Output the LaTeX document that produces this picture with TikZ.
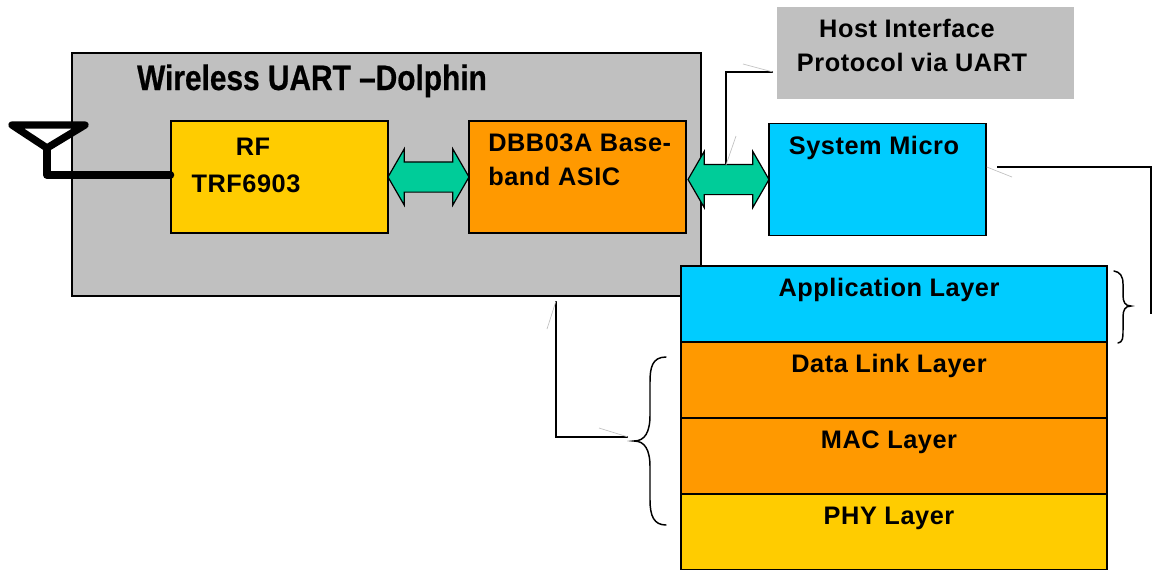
\documentclass[tikz,border=0pt]{standalone}
\usepackage{fontspec}
\setmainfont[LetterSpace=2.2]{Liberation Sans}
\newfontfamily\titlefont[FakeStretch=0.845,BoldFeatures={FakeBold=0.5}]{Liberation Sans}
\usetikzlibrary{shapes.arrows}
\definecolor{boxgray}{HTML}{C0C0C0}
\definecolor{rfyellow}{HTML}{FFCC00}
\definecolor{asicorange}{HTML}{FF9900}
\definecolor{microblue}{HTML}{00CCFF}
\definecolor{arrowgreen}{HTML}{00CC99}
\tikzset{
    blockbox/.style={draw, line width=1.1pt, rectangle, inner sep=0pt, minimum width=162.75pt, minimum height=84pt},
    layerbox/.style={draw, line width=1.1pt, rectangle, inner sep=0pt, minimum width=319.5pt, minimum height=57pt},
    boxtext/.style={font=\fontsize{19}{20}\selectfont\bfseries, inner sep=0pt, anchor=base},
    linkarrow/.style={draw, line width=0.9pt, fill=arrowgreen, shape=double arrow, inner xsep=0pt, inner ysep=10.875pt, double arrow tip angle=120, double arrow head extend=9.75pt, minimum height=60.75pt},
    leader/.style={line width=1.2pt},
    stub/.style={line width=0.5pt, boxgray},
    bracket/.style={line width=1.1pt, line cap=round}
}
\begin{document}
\begin{tikzpicture}[x=0.75pt, y=-0.75pt]
    \useasboundingbox (0,0) rectangle (1152,569);

    \node[draw, line width=1.1pt, fill=boxgray, inner sep=0pt, minimum width=471.75pt, minimum height=182.25pt] (dolphin) at (386.5,174.5) {};
    \node[fill=boxgray, inner sep=0pt, minimum width=222.75pt, minimum height=69pt] (host) at (925.5,53) {};

    \node[blockbox, fill=rfyellow] (rf) at (279.5,177) {};
    \node[blockbox, fill=asicorange] (asic) at (577.5,177) {};
    \node[blockbox, fill=microblue] (micro) at (877.5,179.5) {};

    \node[layerbox, fill=microblue] (app) at (894,304) {};
    \node[layerbox, fill=asicorange] (link) at (894,380) {};
    \node[layerbox, fill=asicorange] (mac) at (894,456) {};
    \node[layerbox, fill=rfyellow] (phy) at (894,532) {};

    \node[linkarrow] (rfasic) at (428.5,177) {};
    \node[linkarrow] (asicmicro) at (728.5,179.5) {};

    % labels
    \node[font=\titlefont\fontsize{26.5}{30}\selectfont\bfseries, inner sep=0pt, anchor=base] (title) at (312,90) {Wireless UART –Dolphin};
    \node[boxtext] (rflabel) at (253,155) {RF};
    \node[boxtext] (trflabel) at (246,192) {TRF6903};
    \node[boxtext, anchor=base west] (asiclabel) at (488,151) {DBB03A Base-};
    \node[boxtext, anchor=base west] (bandlabel) at (488,185) {band ASIC};
    \node[boxtext] (microlabel) at (874,154) {System Micro};
    \node[boxtext] (hostlabel) at (907,37) {Host Interface};
    \node[boxtext] (uartlabel) at (912,71) {Protocol via UART};
    \node[boxtext] (applabel) at (889,296) {Application Layer};
    \node[boxtext] (linklabel) at (889,372) {Data Link Layer};
    \node[boxtext] (maclabel) at (889,448) {MAC Layer};
    \node[boxtext] (phylabel) at (889,524) {PHY Layer};

    % antenna
    \coordinate (antleft) at (12,125);
    \coordinate (antright) at (85,125);
    \coordinate (antapex) at (47,148);
    \coordinate (antfoot) at (47,175);
    \draw[line width=5.5pt, line join=round, line cap=round] (antleft) -- (antright) -- (antapex) -- cycle;
    \draw[line width=6pt, line join=round, line cap=round] (antapex) -- (antfoot) -- (rf.west |- antfoot);

    % leaders
    \coordinate (hostend) at (773,72);
    \coordinate (hostbend) at (726,72);
    \coordinate (hostfoot) at (726,165);
    \draw[leader] (hostend) -- (hostbend) -- (hostfoot);
    \coordinate (microend) at (997,167);
    \coordinate (microbend) at (1151,167);
    \coordinate (appfoot) at (1151,314);
    \draw[leader] (microend) -- (microbend) -- (appfoot);
    \coordinate (dolphinfoot) at (556,301);
    \coordinate (dolphinbend) at (556,437);
    \coordinate (stackend) at (628,437);
    \draw[leader] (dolphinfoot) -- (dolphinbend) -- (stackend);

    % stubs
    \draw[stub] (hostend) -- (743,64);
    \draw[stub] (hostfoot) -- (736,136);
    \draw[stub] (dolphinfoot) -- (547,329);
    \draw[stub] (stackend) -- (599,428);
    \draw[stub] (micro.east |- microend) -- (1012,177);

    % braces
    \draw[bracket] (666,357) .. controls (652,357) and (650,368) .. (650,382)
        -- (650,415) .. controls (650,432) and (645,441) .. (634,441)
        .. controls (645,441) and (650,450) .. (650,467)
        -- (650,500) .. controls (650,516) and (654,525) .. (666,525);
    \draw[bracket] (1114,271) .. controls (1120,272) and (1123,276) .. (1123,284)
        -- (1123,295) .. controls (1123,302) and (1125,306) .. (1131,306)
        .. controls (1125,306) and (1123,310) .. (1123,317)
        -- (1123,330) .. controls (1123,338) and (1123,342) .. (1118,343);
\end{tikzpicture}
\end{document}
